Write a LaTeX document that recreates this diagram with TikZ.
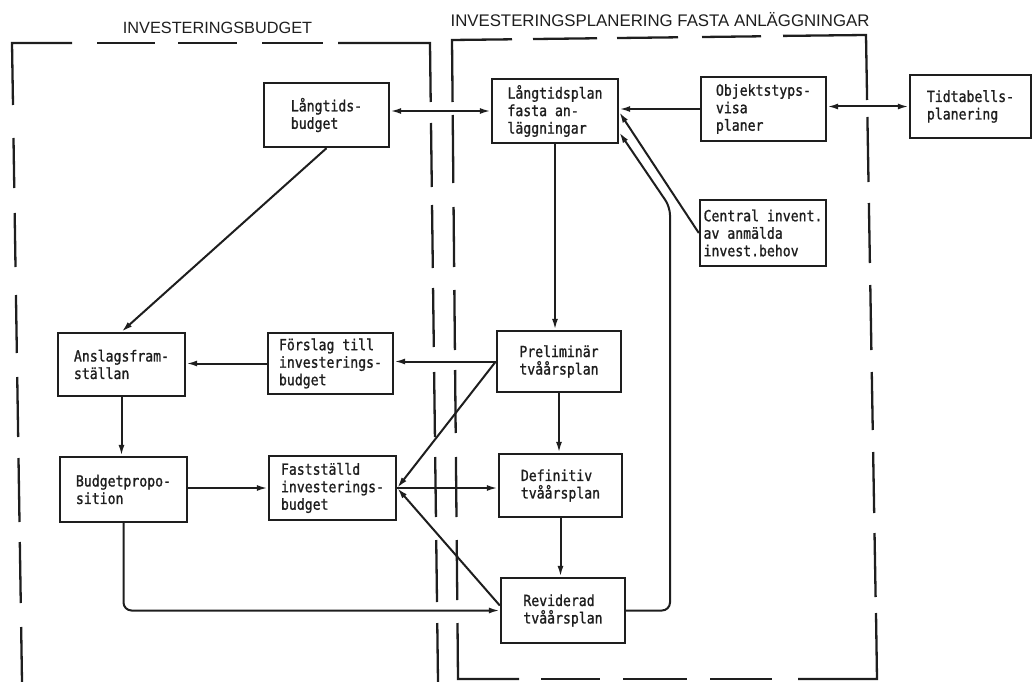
\documentclass[tikz,border=0pt]{standalone}
\usepackage{fontspec}
\setmainfont{Liberation Sans}
\newfontfamily\boxfont[FakeStretch=0.86,FakeBold=1.2]{DejaVu Sans Mono}
\usetikzlibrary{arrows.meta,calc}
\definecolor{ink}{HTML}{1E1E1E}
\begin{document}
\begin{tikzpicture}[x=1bp,y=-1bp,
  box/.style={draw=ink, line width=2.4bp, text=ink,
    font=\boxfont\fontsize{15.3bp}{17.5bp}\selectfont, align=left, inner sep=0pt},
  conn/.style={draw=ink, line width=2bp},
  arr/.style={conn, -{Latex[length=11bp,width=6bp]}},
  biarr/.style={conn, {Latex[length=11bp,width=6bp]}-{Latex[length=11bp,width=6bp]}},
  border/.style={draw=ink, line width=2.3bp, line cap=butt, line join=miter},
  title/.style={text=ink, inner sep=0pt}]
\useasboundingbox (0,0) rectangle (1033,682);

% titles
\node[title, font=\fontsize{16.3bp}{19bp}\selectfont] (t1) at (217.5,27.5) {INVESTERINGSBUDGET};
\node[title, font=\fontsize{16.8bp}{19bp}\selectfont] (t2) at (660,20) {INVESTERINGSPLANERING FASTA ANLÄGGNINGAR};

% dashed region: Investeringsbudget
\draw[border] (72,43) -- (12,43) -- (13,105);
\draw[border] (338,43) -- (430,43) -- (430.7,102);
\foreach \a/\b in {97/155,178/237,262/323}
  \draw[border] (\a,43) -- (\b,43);
\foreach \a/\b in {138/188,213/267,295/353,377/437,458/522,542/603,627/690}
  \draw[border] ({12+0.01565*(\a-43)},\a) -- ({12+0.01565*(\b-43)},\b);
\foreach \a/\b in {123/187,205/268,288/347,372/437,457/517,540/602,623/690}
  \draw[border] ({430+0.01252*(\a-43)},\a) -- ({430+0.01252*(\b-43)},\b);

% dashed region: Investeringsplanering fasta anläggningar
\draw[border] (512,39.3) -- (452,40) -- (452.6,102);
\draw[border] (783,35.9) -- (866,35) -- (867.1,100);
\draw[border] (876,613) -- (877,679) -- (798,679);
\draw[border] (457.5,623) -- (458,679) -- (519,679);
\foreach \a/\b in {533/597,617/678,702/761}
  \draw[border] (\a,{40-0.012*(\a-452)}) -- (\b,{40-0.012*(\b-452)});
\foreach \a/\b in {115/183,207/267,290/350,370/433,457/517,540/600}
  \draw[border] ({452+0.0094*(\a-40)},\a) -- ({452+0.0094*(\b-40)},\b);
\foreach \a/\b in {117/182,203/263,285/350,372/430,452/513,533/597}
  \draw[border] ({866+0.0171*(\a-35)},\a) -- ({866+0.0171*(\b-35)},\b);
\foreach \a/\b in {541/600,623/687,710/772}
  \draw[border] (\a,679) -- (\b,679);

% boxes
\node[box, minimum width=125bp, minimum height=64bp] (LB) at (326.5,115) {Långtids-\\budget};
\node[box, minimum width=126bp, minimum height=64bp] (LP) at (555,111) {Långtidsplan\\fasta an-\\läggningar};
\node[box, minimum width=125bp, minimum height=64bp] (OB) at (763.5,109) {Objektstyps-\\visa\\planer};
\node[box, minimum width=121bp, minimum height=63bp] (TT) at (970.5,106.5) {Tidtabells-\\planering};
\node[box, minimum width=126bp, minimum height=66bp] (CI) at (763,233) {Central invent.\\av anmälda\\invest.behov};
\node[box, minimum width=127bp, minimum height=63bp] (AF) at (121.5,364.5) {Anslagsfram-\\ställan};
\node[box, minimum width=125bp, minimum height=61bp] (FT) at (330.5,363.5) {Förslag till\\investerings-\\budget};
\node[box, minimum width=124bp, minimum height=61bp] (PR) at (559,361.5) {Preliminär\\tvåårsplan};
\node[box, minimum width=127bp, minimum height=65bp] (BP) at (123.5,489.5) {Budgetpropo-\\sition};
\node[box, minimum width=127bp, minimum height=64bp] (FS) at (332.5,488) {Fastställd\\investerings-\\budget};
\node[box, minimum width=123bp, minimum height=63bp] (DF) at (560.5,485.5) {Definitiv\\tvåårsplan};
\node[box, minimum width=124bp, minimum height=65bp] (RV) at (563,610.5) {Reviderad\\tvåårsplan};

\coordinate (rvbend) at (670,207);

% connectors
\draw[biarr] (LB.east |- LP.west) -- (LP.west);
\draw[arr] (OB.west) -- (OB.west -| LP.east);
\draw[biarr] (OB.east |- TT.west) -- (TT.west);
\draw[arr] (CI.west) -- ($(LP.east)+(0,1)$);
\draw[arr, rounded corners=8bp] (RV.east) -- (RV.east -| rvbend) -- (rvbend) -- ($(LP.south east)+(0,-12)$);
\draw[arr] (LP.south) -- (LP.south |- PR.north);
\draw[arr] (PR.west) -- (PR.west -| FT.east);
\draw[arr] (FT.west) -- (FT.west -| AF.east);
\draw[arr] (AF.south) -- (AF.south |- BP.north);
\draw[arr] (BP.east |- FS.west) -- (FS.west);
\draw[arr] (PR.west) -- (FS.east);
\draw[arr] (FS.east) -- (FS.east -| DF.west);
\draw[arr] ($(RV.west)+(0,-5)$) -- (FS.east);
\draw[arr, rounded corners=8bp] (BP.south) -- (BP.south |- RV.west) -- (RV.west);
\draw[arr] (PR.south) -- (PR.south |- DF.north);
\draw[arr] (DF.south) -- (DF.south |- RV.north);
\draw[arr] (LB.south) -- (AF.north);
\end{tikzpicture}
\end{document}
